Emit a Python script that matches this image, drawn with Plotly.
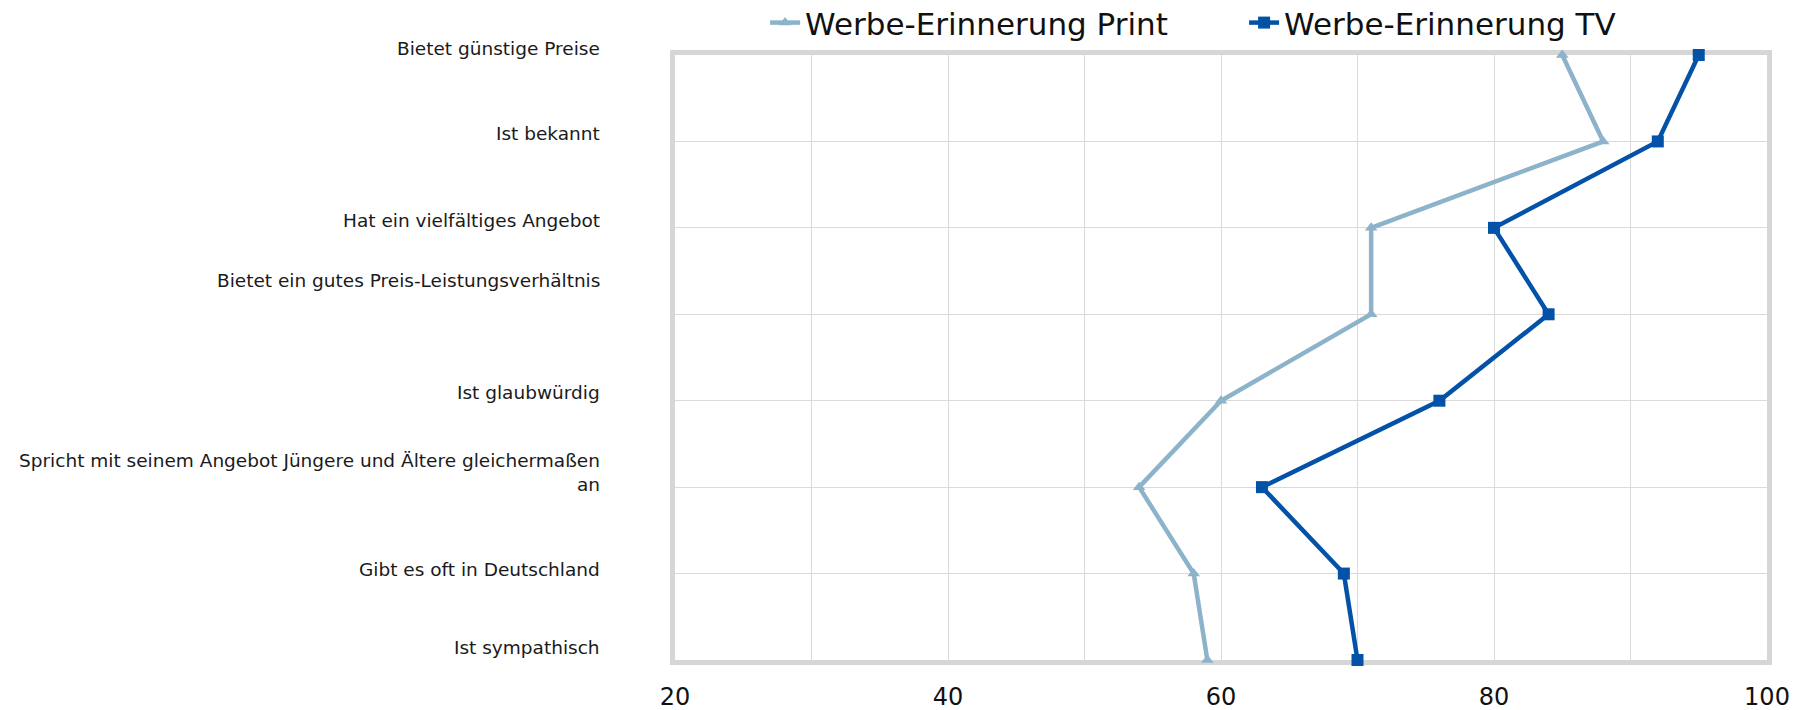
import plotly.graph_objects as go

# Image attributes (top to bottom) and recall scores per advertising channel
categories = [
    "Bietet günstige Preise",
    "Ist bekannt",
    "Hat ein vielfältiges Angebot",
    "Bietet ein gutes Preis-Leistungsverhältnis",
    "Ist glaubwürdig",
    "Spricht mit seinem Angebot Jüngere und Ältere gleichermaßen<br>an",
    "Gibt es oft in Deutschland",
    "Ist sympathisch",
]
print_values = [85, 88, 71, 71, 60, 54, 58, 59]
tv_values = [95, 92, 80, 84, 76, 63, 69, 70]
x_ticks = [20, 40, 60, 80, 100]

# vertical offsets of the attribute labels relative to their grid line (px)
label_shift = [7, 8, 7, 34, 8, 15, 4, 13]

FONT = "DejaVu Sans"
GRID = "#dadada"
BORDER = "#d6d6d6"

rows = list(range(len(categories)))

fig = go.Figure()
fig.add_trace(go.Scatter(
    x=print_values, y=rows, mode="lines+markers",
    name="Werbe-Erinnerung Print",
    line=dict(color="#8db3cb", width=4.5),
    marker=dict(symbol="triangle-up", size=11, color="#8db3cb"),
    cliponaxis=False,
))
fig.add_trace(go.Scatter(
    x=tv_values, y=rows, mode="lines+markers",
    name="Werbe-Erinnerung TV",
    line=dict(color="#0352a7", width=4.5),
    marker=dict(symbol="square", size=12, color="#0352a7"),
    cliponaxis=False,
))

for i, label in enumerate(categories):
    fig.add_annotation(
        x=0, xref="paper", xanchor="right", xshift=-73,
        y=i, yref="y", yanchor="middle", yshift=label_shift[i],
        text=label, showarrow=False, align="right",
        font=dict(family=FONT, size=18.5, color="#1a1a1a"),
    )

fig.update_layout(
    width=1806, height=710,
    margin=dict(l=675, r=39, t=55, b=50, autoexpand=False),
    paper_bgcolor="white", plot_bgcolor="white",
    showlegend=True,
    legend=dict(
        orientation="h", x=0.0825, xanchor="left", y=1.053, yanchor="middle",
        font=dict(family=FONT, size=31, color="#111111"),
        entrywidth=434, itemwidth=30,
        bgcolor="rgba(0,0,0,0)",
    ),
    xaxis=dict(
        range=[20, 100], tickvals=x_ticks,
        showgrid=True, gridcolor=GRID, gridwidth=1.3,
        minor=dict(dtick=10, showgrid=True, gridcolor=GRID, gridwidth=1.3),
        showline=True, linecolor=BORDER, linewidth=5, mirror=True,
        zeroline=False, ticks="", layer="below traces",
        ticklabelstandoff=11,
        tickfont=dict(family=FONT, size=24, color="#111111"),
        fixedrange=True,
    ),
    yaxis=dict(
        range=[len(categories) - 1, 0], tickvals=rows, showticklabels=False,
        showgrid=True, gridcolor=GRID, gridwidth=1.3,
        showline=True, linecolor=BORDER, linewidth=5, mirror=True,
        zeroline=False, ticks="", layer="below traces",
        fixedrange=True,
    ),
)

fig.write_html("out.html")
